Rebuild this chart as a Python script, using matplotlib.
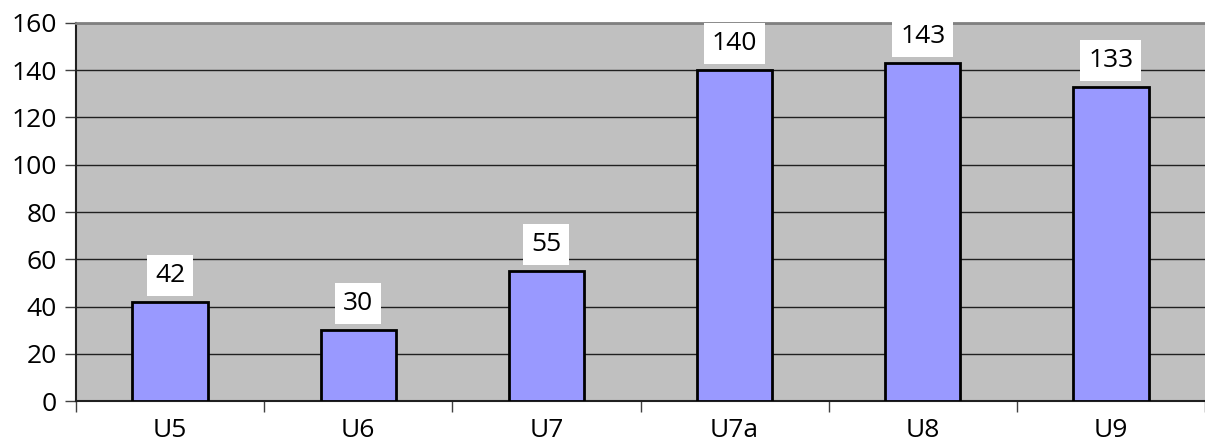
import matplotlib.pyplot as plt
import numpy as np

# chart data
categories = ['U5', 'U6', 'U7', 'U7a', 'U8', 'U9']
values = [42, 30, 55, 140, 143, 133]
yticks = [0, 20, 40, 60, 80, 100, 120, 140, 160]

plt.rcParams['font.family'] = ['Open Sans', 'DejaVu Sans']

fig = plt.figure(figsize=(12.05, 4.44), dpi=100)
ax = fig.add_axes([76 / 1205, 43 / 444, 1 - 76 / 1205, 378 / 444])
ax.set_facecolor('#C0C0C0')

x = np.arange(len(categories))
ax.bar(x, values, width=0.4, color='#9999FF', edgecolor='black', linewidth=2, zorder=3)

# value labels in white boxes
for xi, v in zip(x, values):
    ax.annotate(str(v), (xi, v), xytext=(0, 10), textcoords='offset points',
                ha='center', va='bottom', fontsize=19, zorder=5, annotation_clip=False,
                bbox=dict(boxstyle='square,pad=0.3', fc='white', ec='none'))

ax.set_xlim(-0.5, len(categories) - 0.5)
ax.set_ylim(0, 160)
ax.set_yticks(yticks)
ax.tick_params(axis='y', labelsize=19, length=8, width=1, color='#404040', pad=6)
ax.yaxis.grid(True, color='#202020', linewidth=1)
ax.set_axisbelow(True)

# category ticks between bars, labels centered
ax.set_xticks(np.arange(-0.5, len(categories), 1))
ax.set_xticklabels([])
ax.set_xticks(x, minor=True)
ax.set_xticklabels(categories, minor=True, fontsize=19)
ax.tick_params(axis='x', which='major', length=8, width=1, color='#404040')
ax.tick_params(axis='x', which='minor', length=0, pad=12)

ax.spines['left'].set_color('#202020')
ax.spines['left'].set_linewidth(1.5)
ax.spines['bottom'].set_color('#202020')
ax.spines['bottom'].set_linewidth(1.5)
ax.spines['top'].set_color('#808080')
ax.spines['top'].set_linewidth(2)
ax.spines['right'].set_visible(False)

plt.savefig('out.png', dpi=100)
